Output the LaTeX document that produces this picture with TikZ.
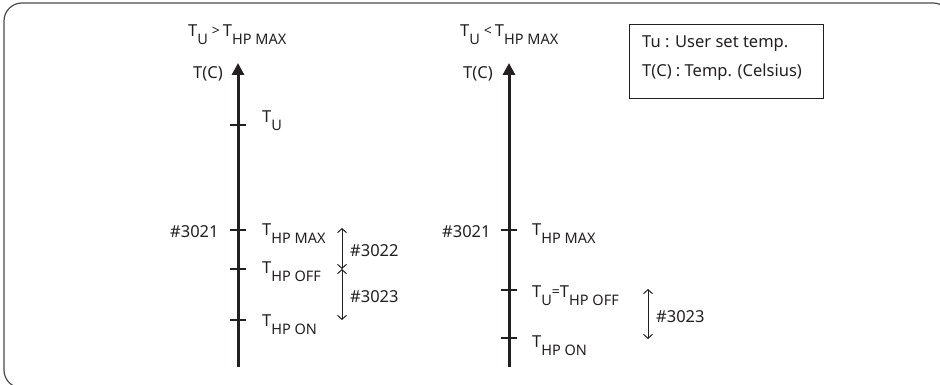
\documentclass[tikz,border=0pt]{standalone}
\usepackage{fontspec}
\setmainfont{Noto Sans}
\usetikzlibrary{arrows.meta}
\definecolor{ink}{HTML}{231F20}
\definecolor{framec}{HTML}{4A4A4A}
\newcommand{\tsub}[1]{\raisebox{-8pt}{\fontsize{14.5}{14.5}\selectfont #1}}
\newcommand{\smallrel}[1]{\raisebox{1pt}{\fontsize{14}{14}\selectfont #1}}
\begin{document}
\begin{tikzpicture}[x=1pt,y=-1pt,
  font=\fontsize{16.5}{19}\selectfont, text=ink,
  axis/.style={line width=3pt, draw=ink, -{Triangle[length=12pt,width=12pt]}},
  tickmark/.style={line width=2.4pt, draw=ink},
  lbl/.style={anchor=base west, inner sep=0pt},
  dimline/.style={line width=1pt, draw=ink,
    {Straight Barb[length=4pt,width=9pt]}-{Straight Barb[length=4pt,width=9pt]}},
  legendbox/.style={draw=ink, line width=1pt}
]
\useasboundingbox (0,0) rectangle (940,385);
% outer frame
\draw[framec, line width=1.2pt, rounded corners=18pt] (4,3) rectangle (951,388);

% ---------- left diagram ----------
\node[lbl] (ltitle) at (188,37) {T\tsub{U}\hspace{4pt}\smallrel{>}\hspace{3pt}T\tsub{HP MAX}};
\node[lbl] (ltc) at (193,79) {T(C)};
\coordinate (lbot) at (238,367);
\coordinate (ltop) at (238,63);
\draw[axis] (lbot) -- (ltop);
\foreach \n/\y in {lu/125, lmax/230, loff/269, lon/320}{
  \coordinate (\n) at (238,\y);
  \draw[tickmark] ([xshift=-8pt]\n) -- ([xshift=8pt]\n);
}
\node[lbl] (lulbl) at (262,123) {T\tsub{U}};
\node[lbl] (lmaxlbl) at (262,235) {T\tsub{HP MAX}};
\node[lbl] (lofflbl) at (262,273) {T\tsub{HP OFF}};
\node[lbl] (lonlbl) at (262,326) {T\tsub{HP ON}};
\node[lbl] (l3021) at (170,237) {\#3021};
\coordinate (da) at (342,228);
\coordinate (db) at (342,269);
\coordinate (dc) at (342,320);
\draw[dimline] (da) -- (db);
\draw[dimline] (db) -- (dc);
\node[lbl] (l3022) at (350,256) {\#3022};
\node[lbl] (l3023) at (350,302) {\#3023};

% ---------- right diagram ----------
\node[lbl] (rtitle) at (460,37) {T\tsub{U}\hspace{4pt}\smallrel{<}\hspace{3pt}T\tsub{HP MAX}};
\node[lbl] (rtc) at (463,79) {T(C)};
\coordinate (rbot) at (509,367);
\coordinate (rtop) at (509,63);
\draw[axis] (rbot) -- (rtop);
\foreach \n/\y in {rmax/230, roff/290, ron/338}{
  \coordinate (\n) at (509,\y);
  \draw[tickmark] ([xshift=-8pt]\n) -- ([xshift=8pt]\n);
}
\node[lbl] (rmaxlbl) at (532,235) {T\tsub{HP MAX}};
\node[lbl] (rofflbl) at (532,297) {T\tsub{U}\smallrel{=}T\tsub{HP OFF}};
\node[lbl] (ronlbl) at (532,347) {T\tsub{HP ON}};
\node[lbl] (r3021) at (442,237) {\#3021};
\coordinate (ra) at (648,289);
\coordinate (rb) at (648,339);
\draw[dimline] (ra) -- (rb);
\node[lbl] (r3023) at (656,322) {\#3023};

% ---------- legend ----------
\draw[legendbox] (629,25) rectangle (823,99);
\node[lbl] (leg1) at (642,48) {Tu : User set temp.};
\node[lbl] (leg2) at (642,77) {T(C) : Temp. (Celsius)};
\end{tikzpicture}
\end{document}
